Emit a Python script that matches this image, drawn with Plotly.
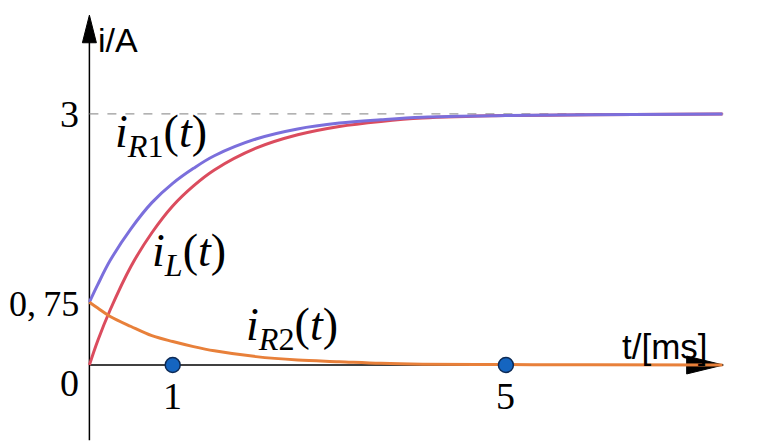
import plotly.graph_objects as go

# ---- data ----
t_ms = [0, 0.1, 0.25, 0.5, 0.75, 1.0, 1.25, 1.5, 2.0, 2.5, 3.0, 3.5, 4.0, 5.0, 6.0, 7.6]
i_L  = [0, 0.29, 0.66, 1.18, 1.58, 1.90, 2.14, 2.33, 2.59, 2.75, 2.85, 2.91, 2.95, 2.98, 2.99, 3.0]
i_R1 = [0.75, 0.96, 1.25, 1.63, 1.94, 2.17, 2.35, 2.50, 2.70, 2.82, 2.89, 2.93, 2.96, 2.98, 2.99, 3.0]
i_R2 = [0.75, 0.68, 0.58, 0.46, 0.35, 0.28, 0.22, 0.17, 0.10, 0.06, 0.04, 0.02, 0.01, 0.005, 0.002, 0.0]
dot_t = [1, 5]
dot_v = [0, 0]
y_ticks = [3, 0.75, 0]
y_tick_labels = ["3", "0,\u200975", "0"]
x_ticks = [1, 5]
x_tick_labels = ["1", "5"]
t_end = 7.61
y_top = 4.18
y_bottom = -0.9

# page has an 8px body margin; map so that screen origin is (89.4, 365)
OFF = 8
W, H = 765 - OFF, 443 - OFF
ox, oy, sx, sy = 89.4 - OFF, 365.0 - OFF, 83.3, 83.7
xr = [-ox / sx, (W - ox) / sx]
yr = [(oy - H) / sy, oy / sy]

BLUE = "#7b6fdc"
RED = "#db4c5e"
ORANGE = "#e8803a"

fig = go.Figure()
fig.add_trace(go.Scatter(x=t_ms, y=i_L, mode="lines", line=dict(color=RED, width=3, shape="spline"), hoverinfo="skip"))
fig.add_trace(go.Scatter(x=t_ms, y=i_R1, mode="lines", line=dict(color=BLUE, width=3, shape="spline"), hoverinfo="skip"))
fig.add_trace(go.Scatter(x=t_ms, y=i_R2, mode="lines", line=dict(color=ORANGE, width=3, shape="spline"), hoverinfo="skip"))
fig.add_trace(go.Scatter(x=dot_t, y=dot_v, mode="markers",
                         marker=dict(size=15, color="#1565c0", line=dict(color="#0d2a55", width=1.5)),
                         hoverinfo="skip"))

shapes = []
# y axis
shapes.append(dict(type="line", x0=0, x1=0, y0=y_bottom, y1=3.9, line=dict(color="black", width=1.5), layer="below"))
shapes.append(dict(type="path", path=f"M {-0.084},{3.85} L 0,{y_top} L {0.084},{3.85} Z",
                   fillcolor="black", line=dict(color="black", width=1), layer="below"))
# x axis
shapes.append(dict(type="line", x0=0, x1=7.2, y0=0, y1=0, line=dict(color="black", width=1.5), layer="below"))
shapes.append(dict(type="path", path=f"M 7.17,{-0.107} L {t_end},0 L 7.17,{0.107} Z",
                   fillcolor="black", line=dict(color="black", width=1), layer="below"))
# dashed asymptote
shapes.append(dict(type="line", x0=0, x1=t_end, y0=3, y1=3, line=dict(color="#999999", width=1.2, dash="dash"), layer="below"))

ann = []
y_tick_pos = {3: 3.0, 0.75: 0.73, 0: -0.21}
y_tick_size = {3: 38, 0.75: 36, 0: 38}
for v, lab in zip(y_ticks, y_tick_labels):
    ann.append(dict(x=-0.1, y=y_tick_pos[v], text=lab, showarrow=False, xanchor="right", yanchor="middle",
                    font=dict(family="Liberation Serif", size=y_tick_size[v], color="black")))
for t, lab in zip(x_ticks, x_tick_labels):
    ann.append(dict(x=t, y=-0.37, text=lab, showarrow=False, xanchor="center", yanchor="middle",
                    font=dict(family="Liberation Serif", size=38, color="black")))

mfont = dict(family="Liberation Serif", size=46, color="black")
ann.append(dict(x=0.86, y=2.75, text="<i>i</i><sub><i>R</i>1</sub>(<i>t</i>)", showarrow=False, font=mfont))
ann.append(dict(x=1.2, y=1.33, text="<i>i</i><sub><i>L</i></sub>(<i>t</i>)", showarrow=False, font=mfont))
ann.append(dict(x=2.43, y=0.44, text="<i>i</i><sub><i>R</i>2</sub>(<i>t</i>)", showarrow=False, font=mfont))

ann.append(dict(x=0.08, y=3.88, text="i/A", showarrow=False, xanchor="left", yanchor="middle",
                font=dict(family="Liberation Sans", size=34, color="black")))
ann.append(dict(x=6.37, y=0.22, text="t/[ms]", showarrow=False, xanchor="left", yanchor="middle",
                font=dict(family="Liberation Sans", size=35, color="black")))

fig.update_layout(
    width=W, height=H, margin=dict(l=0, r=0, t=0, b=0),
    paper_bgcolor="white", plot_bgcolor="white", showlegend=False,
    xaxis=dict(range=xr, visible=False, fixedrange=True),
    yaxis=dict(range=yr, visible=False, fixedrange=True),
    shapes=shapes, annotations=ann,
)
fig.write_html("out.html")
